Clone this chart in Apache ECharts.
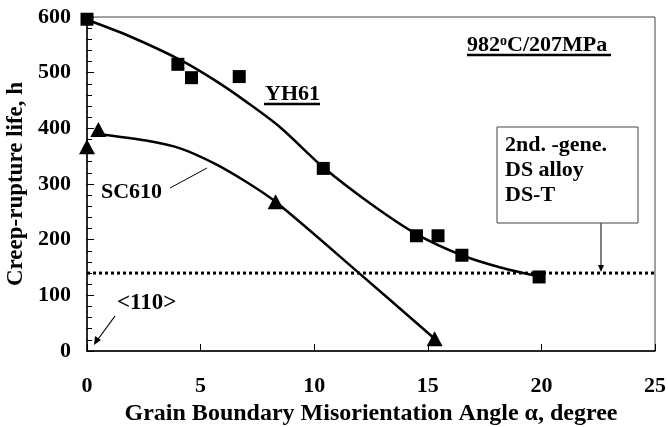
<!DOCTYPE html>
<html>
<head>
<meta charset="utf-8">
<script src="https://cdn.jsdelivr.net/npm/echarts@6/dist/echarts.min.js"></script>
<style>html,body{margin:0;padding:0;background:#fff}#c{width:668px;height:427px}</style>
</head>
<body>
<div id="c"></div>
<script>
// ---- data ----
var yh61Points = [[0,596],[4.0,515],[4.6,491],[6.7,493],[10.4,328],[14.5,207],[15.45,207],[16.5,172],[19.9,133]];
var sc610Points = [[0,367],[0.5,398],[8.3,268],[15.3,22]];
var yh61Curve = [[0,595],[1.9,565],[4.1,523],[5.6,487],[7.0,448],[8.5,402],[10.4,330],[12.5,264],[14.5,210],[16.5,172],[18.2,150],[19.9,134]];
var sc610Curve = [[0.5,390],[2.6,378],[4.1,364],[5.6,337],[7.0,304],[8.3,268],[12.0,139],[15.3,22]];
var dsTLine = [[0,140],[25,140]];
var xTicks = {min:0, max:25, step:5};
var yTicks = {min:0, max:600, step:100};

var FONT = '"Liberation Serif","Times New Roman",serif';
var chart = echarts.init(document.getElementById('c'), null, {renderer:'canvas'});
var txt = function(t, x, y, size, extra){
  return Object.assign({type:'text', left:x, top:y, style:{text:t, font:'bold '+size+'px '+FONT, fill:'#000'}}, extra||{});
};
chart.setOption({
  animation:false,
  backgroundColor:'#fff',
  grid:{left:87, top:17, right:13, bottom:76, show:true, borderColor:'#444', borderWidth:1, outerBoundsMode:'none', containLabel:false},
  xAxis:{type:'value', min:xTicks.min, max:xTicks.max, interval:xTicks.step,
    name:'Grain Boundary Misorientation Angle \u03b1, degree', nameLocation:'middle', nameGap:46,
    nameTextStyle:{fontFamily:FONT, fontWeight:'bold', fontSize:24, color:'#000'},
    axisLine:{lineStyle:{color:'#000', width:1.5}},
    axisTick:{inside:true, length:7, lineStyle:{color:'#000'}},
    axisLabel:{margin:24, fontFamily:FONT, fontWeight:'bold', fontSize:22, color:'#000'},
    splitLine:{show:false}},
  yAxis:{type:'value', min:yTicks.min, max:yTicks.max, interval:yTicks.step,
    name:'Creep-rupture life, h', nameLocation:'middle', nameGap:57, nameRotate:90,
    nameTextStyle:{fontFamily:FONT, fontWeight:'bold', fontSize:23, color:'#000'},
    axisLine:{show:true, lineStyle:{color:'#000', width:1.5}},
    axisTick:{show:true, inside:true, length:7, lineStyle:{color:'#000'}},
    minorTick:{show:true, splitNumber:5, length:5, lineStyle:{color:'#000'}},
    axisLabel:{margin:16, fontFamily:FONT, fontWeight:'bold', fontSize:22, color:'#000'},
    splitLine:{show:false}},
  series:[
    {type:'line', data:yh61Curve, smooth:0.3, showSymbol:false, clip:false, lineStyle:{color:'#000', width:2.5}, z:2},
    {type:'line', data:sc610Curve, smooth:0.3, showSymbol:false, clip:false, lineStyle:{color:'#000', width:2.5}, z:2},
    {type:'line', data:dsTLine, showSymbol:false, lineStyle:{color:'#000', width:3, type:[3,3]}, z:1},
    {type:'scatter', data:yh61Points, symbol:'rect', symbolSize:13, itemStyle:{color:'#000', opacity:1}, clip:false, z:3},
    {type:'scatter', data:sc610Points, symbol:'triangle', symbolSize:[16,15], itemStyle:{color:'#000', opacity:1}, clip:false, z:3}
  ],
  graphic:[
    {type:'text', left:467, top:34, style:{rich:{
        a:{font:'bold 22px '+FONT, fill:'#000'},
        s:{font:'bold 14px '+FONT, fill:'#000', verticalAlign:'top', padding:[0,0,8,0]}},
      text:'{a|982}{s|o}{a|C/207MPa}'}},
    {type:'line', shape:{x1:467, y1:55, x2:611, y2:55}, style:{stroke:'#000', lineWidth:2.5}},
    txt('YH61', 265, 83, 22),
    {type:'line', shape:{x1:264, y1:104, x2:320, y2:104}, style:{stroke:'#000', lineWidth:2.5}},
    txt('SC610', 101, 181, 22),
    {type:'line', shape:{x1:170, y1:188, x2:207, y2:168}, style:{stroke:'#000', lineWidth:1}},
    {type:'rect', shape:{x:497, y:127, width:141, height:96}, style:{fill:'#fff', stroke:'#444', lineWidth:1}, z:10},
    txt('2nd. -gene.', 505, 134, 22, {z:11}),
    txt('DS alloy', 505, 159, 22, {z:11}),
    txt('DS-T', 505, 184, 22, {z:11}),
    {type:'line', shape:{x1:601, y1:223, x2:601, y2:270}, style:{stroke:'#000', lineWidth:1}},
    {type:'polygon', shape:{points:[[598,265],[604,265],[601,272]]}, style:{fill:'#000'}},
    txt('<110>', 117, 292, 23),
    {type:'line', shape:{x1:115, y1:316, x2:96, y2:342}, style:{stroke:'#000', lineWidth:1.2}},
    {type:'polygon', shape:{points:[[94,345],[95,336],[101,340]]}, style:{fill:'#000'}}
  ]
});
</script>
</body>
</html>
